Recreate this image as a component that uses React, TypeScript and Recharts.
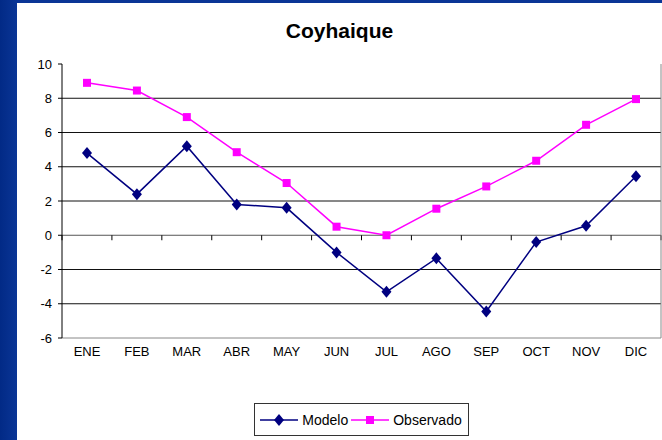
import React from 'react';
import { LineChart, Line, XAxis, YAxis, CartesianGrid, Legend, ReferenceLine } from 'recharts';

document.body.style.margin = '0';

const months = ['ENE', 'FEB', 'MAR', 'ABR', 'MAY', 'JUN', 'JUL', 'AGO', 'SEP', 'OCT', 'NOV', 'DIC'];
const modelo = [4.8, 2.4, 5.2, 1.8, 1.6, -1.0, -3.3, -1.35, -4.45, -0.4, 0.55, 3.45];
const observado = [8.9, 8.45, 6.9, 4.85, 3.05, 0.5, 0.0, 1.55, 2.85, 4.35, 6.45, 7.95];
const yTicks = [-6, -4, -2, 0, 2, 4, 6, 8, 10];
const gridValues = [-4, -2, 2, 4, 6, 8];

const data = months.map((m, i) => ({ mes: m, Modelo: modelo[i], Observado: observado[i] }));

const FONT = '"Liberation Sans", Arial, sans-serif';
const NAVY = '#000080';
const MAGENTA = '#ff00ff';
const BORDER = '#888';

const Diamond = (props: any) => {
  const { cx, cy } = props;
  if (cx == null || cy == null) return null;
  return <polygon points={`${cx},${cy - 6} ${cx + 5},${cy} ${cx},${cy + 6} ${cx - 5},${cy}`} fill={NAVY} />;
};

const Square = (props: any) => {
  const { cx, cy } = props;
  if (cx == null || cy == null) return null;
  return <rect x={cx - 4} y={cy - 4} width={8} height={8} fill={MAGENTA} />;
};

// eje de categorías en y=0 con marcas entre meses
const ZeroAxis = (props: any) => {
  const { x1, y1, x2, y2 } = props;
  const step = (x2 - x1) / months.length;
  return (
    <g>
      <line x1={x1} y1={y1} x2={x2} y2={y2} stroke="#555" strokeWidth={1} />
      {Array.from({ length: months.length + 1 }, (_, k) => (
        <line key={k} x1={x1 + k * step} y1={y1} x2={x1 + k * step} y2={y1 + 5} stroke="#000" strokeWidth={1} />
      ))}
    </g>
  );
};

const LegendBox = (props: any) => {
  const { payload } = props;
  return (
    <div style={{ display: 'flex', justifyContent: 'center' }}>
      <div style={{ display: 'flex', alignItems: 'center', border: '1px solid #333', height: 31, padding: '0 4px', fontFamily: FONT, fontSize: 14, color: '#000', background: '#fff' }}>
        {(payload || []).map((p: any) => (
          <div key={p.value} style={{ display: 'flex', alignItems: 'center', marginRight: 2 }}>
            <svg width={40} height={14}>
              <line x1={1} y1={7} x2={39} y2={7} stroke={p.color} strokeWidth={1.5} />
              {p.value === 'Modelo'
                ? <polygon points="20,1 25,7 20,13 15,7" fill={NAVY} />
                : <rect x={16} y={3} width={8} height={8} fill={MAGENTA} />}
            </svg>
            <span style={{ marginLeft: 3 }}>{p.value}</span>
          </div>
        ))}
      </div>
    </div>
  );
};

export default function App() {
  return (
    <div style={{ width: 662, height: 440, background: 'linear-gradient(90deg, #022a86 0px, #0a3596 17px)', position: 'relative', overflow: 'hidden' }}>
      <div style={{ position: 'absolute', left: 17, top: 3, width: 645, height: 437, background: '#fff' }}>
        <div style={{ position: 'absolute', left: 0, top: 16, width: 645, textAlign: 'center', fontFamily: FONT, fontWeight: 'bold', fontSize: 21, color: '#000' }}>
          Coyhaique
        </div>
        <LineChart width={645} height={437} data={data} margin={{ top: 61, right: 0, left: 0, bottom: 72 }}>
          <CartesianGrid horizontal vertical={false} horizontalValues={gridValues} stroke="#111" strokeWidth={1} />
          <XAxis dataKey="mes" axisLine={{ stroke: BORDER }} tickLine={false} interval={0} height={30}
            padding={{ left: 25, right: 25 }}
            tick={{ fontFamily: FONT, fontSize: 13, fill: '#000' }} tickSize={6} tickMargin={3} />
          <XAxis xAxisId="top" dataKey="mes" orientation="top" height={0} tick={false} tickLine={false}
            axisLine={{ stroke: BORDER }} />
          <YAxis domain={[-6, 10]} ticks={yTicks} interval={0} width={45} axisLine={{ stroke: '#000' }}
            tickLine={{ stroke: '#000' }} tickSize={4} tickMargin={6}
            tick={{ fontFamily: FONT, fontSize: 13, fill: '#000' }} />
          <YAxis yAxisId="right" orientation="right" domain={[-6, 10]} width={1} tick={false} tickLine={false}
            axisLine={{ stroke: BORDER }} />
          <ReferenceLine y={0} shape={ZeroAxis} />
          <Line dataKey="Modelo" stroke={NAVY} strokeWidth={1.5} dot={Diamond} isAnimationActive={false} />
          <Line dataKey="Observado" stroke={MAGENTA} strokeWidth={1.5} dot={Square} isAnimationActive={false} />
          <Legend layout="horizontal" verticalAlign="middle" align="center" content={LegendBox}
            wrapperStyle={{ top: 400, left: 45, width: 599 }} />
        </LineChart>
      </div>
    </div>
  );
}
